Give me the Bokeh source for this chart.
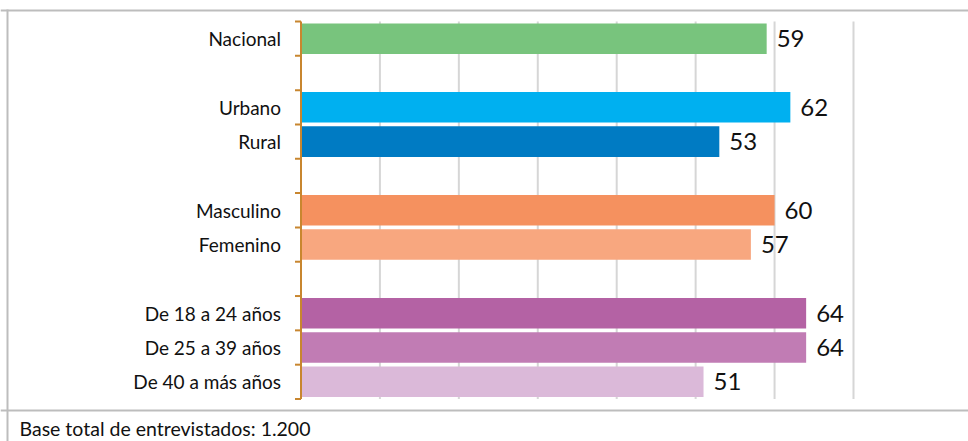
from bokeh.plotting import figure
from bokeh.models import Range1d, ColumnDataSource, BoxAnnotation, Label
from bokeh.core.properties import value
from bokeh.embed import file_html
from bokeh.resources import INLINE

# ---- data ----
categories = ["Nacional", "Urbano", "Rural", "Masculino", "Femenino",
              "De 18 a 24 años", "De 25 a 39 años", "De 40 a más años"]
values = [59, 62, 53, 60, 57, 64, 64, 51]
groups = [0, 1, 1, 2, 2, 3, 3, 3]
colors = ["#78C47D", "#00B0F0", "#007BC3", "#F5915F", "#F8A77F",
          "#B462A4", "#C17CB4", "#DBB9D9"]
x_ticks = [10, 20, 30, 40, 50, 60, 70]
footer_text = "Base total de entrevistados: 1.200"

slots = [i + g for i, g in enumerate(groups)]
n_slots = slots[-1] + 1
edges = [s - 0.5 for s in range(n_slots + 1)]

# ---- layout (pixels) ----
W, H = 968, 441
X0_PX, XMAX_PX = 300.5, 853.0      # where 0 and the axis maximum fall
Y_TOP_PX, Y_BOT_PX = 21.0, 398.5    # top / bottom of the category band
X_MAX = x_ticks[-1]
ppu = (XMAX_PX - X0_PX) / X_MAX
pps = (Y_BOT_PX - Y_TOP_PX) / n_slots
x_range = Range1d(-X0_PX / ppu, (W - X0_PX) / ppu)
y_range = Range1d(edges[-1] + (H - Y_BOT_PX) / pps, edges[0] - Y_TOP_PX / pps)

AXIS = "#C8862F"
GRID = "#D6D6D6"
BORDER = "#BDBDBD"
FONT = "Lato"
TXT = "#111111"

p = figure(width=W, height=H, output_backend="svg", toolbar_location=None,
           x_range=x_range, y_range=y_range, x_axis_location=None, y_axis_location=None,
           min_border=0)
p.outline_line_color = None
p.background_fill_color = "white"
p.border_fill_color = "white"
p.grid.visible = False

# vertical grid lines within the category band
p.segment(x0=x_ticks, x1=x_ticks, y0=[edges[0]] * len(x_ticks), y1=[edges[-1]] * len(x_ticks),
          line_color=GRID, line_width=2)

src = ColumnDataSource(dict(y=slots, v=values, c=colors, cat=categories,
                            lab=[str(v) for v in values]))
p.hbar(y="y", right="v", left=0, height=0.89, fill_color="c", line_color=None, source=src)

# category axis: line, boundary ticks, labels
tick_len = 6 / ppu
p.segment(x0=[0], x1=[0], y0=[edges[0]], y1=[edges[-1]], line_color=AXIS, line_width=2)
p.segment(x0=[-tick_len] * len(edges), x1=[0] * len(edges), y0=edges, y1=edges,
          line_color=AXIS, line_width=2)
p.text(x=0, y="y", text="cat", x_offset=-20, text_align="right", text_baseline="middle",
       text_font=value(FONT), text_font_size="19px", text_color=TXT, source=src)

# value labels
p.text(x="v", y="y", text="lab", x_offset=10, text_baseline="middle", text_align="left",
       text_font=value(FONT), text_font_size="24px", text_color=TXT, source=src)

# chart border lines
for l, r, t, b in [(0, W, 9, 11), (0, W, 409, 411), (6, 8, 9, H)]:
    p.add_layout(BoxAnnotation(left=l, right=r, top=t, bottom=b,
                               left_units="canvas", right_units="canvas",
                               top_units="canvas", bottom_units="canvas",
                               fill_color=BORDER, fill_alpha=1.0, line_alpha=0))

p.add_layout(Label(x=19, y=428, x_units="canvas", y_units="canvas", text=footer_text,
                   text_baseline="middle", text_align="left", text_font=FONT,
                   text_font_size="19.5px", text_color=TXT))

open("out.html", "w").write(file_html(p, INLINE))
